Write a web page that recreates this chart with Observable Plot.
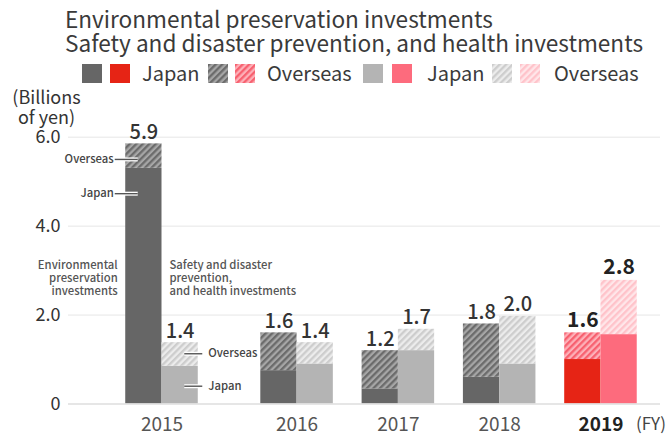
<!DOCTYPE html>
<html><head><meta charset="utf-8">
<script src="https://cdn.jsdelivr.net/npm/d3@7"></script>
<script src="https://cdn.jsdelivr.net/npm/@observablehq/plot@0.6"></script>
<style>
body{margin:0;background:#fff;font-family:"Noto Sans CJK JP","Noto Sans",sans-serif;color:#333;}
#header{position:relative;width:668px;height:90px;}
.title{position:absolute;left:65px;top:7px;font-size:22.6px;line-height:24px;color:#3a3a3a;white-space:nowrap;}
.sw{position:absolute;top:64px;width:20px;height:19px;}
.lt{position:absolute;top:63px;font-size:20px;line-height:20px;color:#3a3a3a;white-space:nowrap;}
svg{display:block;}
</style></head>
<body>
<svg width="0" height="0" style="position:absolute">
<defs>
<pattern id="hDark" patternUnits="userSpaceOnUse" width="4.6" height="4.6" patternTransform="rotate(45)"><rect width="4.6" height="4.6" fill="#a6a6a6"/><rect width="2.3" height="4.6" fill="#6b6b6b"/></pattern>
<pattern id="hRed" patternUnits="userSpaceOnUse" width="4.6" height="4.6" patternTransform="rotate(45)"><rect width="4.6" height="4.6" fill="#fdb0b8"/><rect width="2.3" height="4.6" fill="#f7606f"/></pattern>
<pattern id="hLight" patternUnits="userSpaceOnUse" width="4.6" height="4.6" patternTransform="rotate(45)"><rect width="4.6" height="4.6" fill="#ececec"/><rect width="2.3" height="4.6" fill="#cdcdcd"/></pattern>
<pattern id="hPink" patternUnits="userSpaceOnUse" width="4.6" height="4.6" patternTransform="rotate(45)"><rect width="4.6" height="4.6" fill="#ffe6e9"/><rect width="2.3" height="4.6" fill="#ffc3ca"/></pattern>
</defs></svg>
<div id="header">
<div class="title">Environmental preservation investments<br>Safety and disaster prevention, and health investments</div>
<svg class="sw" style="left:82px"><rect width="20" height="19" fill="#666666"/></svg>
<svg class="sw" style="left:110px"><rect width="20" height="19" fill="#e62415"/></svg>
<div class="lt" style="left:142px">Japan</div>
<svg class="sw" style="left:208px"><rect width="20" height="19" fill="url(#hDark)"/></svg>
<svg class="sw" style="left:235px"><rect width="20" height="19" fill="url(#hRed)"/></svg>
<div class="lt" style="left:267px">Overseas</div>
<svg class="sw" style="left:363px"><rect width="20" height="19" fill="#b4b4b4"/></svg>
<svg class="sw" style="left:392px"><rect width="20" height="19" fill="#fd6b7d"/></svg>
<div class="lt" style="left:427px">Japan</div>
<svg class="sw" style="left:492px"><rect width="20" height="19" fill="url(#hLight)"/></svg>
<svg class="sw" style="left:520px"><rect width="20" height="19" fill="url(#hPink)"/></svg>
<div class="lt" style="left:554px">Overseas</div>
</div>
<div id="chart"></div>
<script>
const years = ["2015", "2016", "2017", "2018", "2019"];
const envJapan = [5.3, 0.75, 0.34, 0.6, 1.0];
const envOverseas = [0.55, 0.85, 0.86, 1.2, 0.6];
const envTotal = [5.9, 1.6, 1.2, 1.8, 1.6];
const safJapan = [0.85, 0.9, 1.2, 0.9, 1.56];
const safOverseas = [0.53, 0.48, 0.48, 1.07, 1.22];
const safTotal = [1.4, 1.4, 1.7, 2.0, 2.8];
const yTicks = [0, 2, 4, 6];
const leftCallouts = [{label: "Overseas", v: 5.5}, {label: "Japan", v: 4.73}];
const rightCallouts = [{label: "Overseas", v: 1.13}, {label: "Japan", v: 0.40}];

const W = 668, H = 347, ML = 68, MR = 8, MT = 46.7, MB = 33.5;
const xDomain = [-0.923, 4.921];
const unitPx = (W - ML - MR) / (xDomain[1] - xDomain[0]);
const px = p => p / unitPx;
const pos = i => i + (i > 0 ? 1 / 3 : 0);
const bw = 0.358;
const hot = i => i === years.length - 1;

const segs = [];
years.forEach((y, i) => {
  const p = pos(i);
  segs.push({x1: p - bw, x2: p, y1: 0, y2: envJapan[i], fill: hot(i) ? "#e62415" : "#666666"});
  segs.push({x1: p - bw, x2: p, y1: envJapan[i], y2: envJapan[i] + envOverseas[i], fill: hot(i) ? "url(#hRed)" : "url(#hDark)"});
  segs.push({x1: p, x2: p + bw, y1: 0, y2: safJapan[i], fill: hot(i) ? "#fd6b7d" : "#b4b4b4"});
  segs.push({x1: p, x2: p + bw, y1: safJapan[i], y2: safJapan[i] + safOverseas[i], fill: hot(i) ? "url(#hPink)" : "url(#hLight)"});
});
const labels = [];
years.forEach((y, i) => {
  labels.push({x: pos(i) - bw / 2, y: envJapan[i] + envOverseas[i], t: envTotal[i].toFixed(1), hot: hot(i)});
  labels.push({x: pos(i) + bw / 2, y: safJapan[i] + safOverseas[i], t: safTotal[i].toFixed(1), hot: hot(i)});
});
const yearRows = years.map((y, i) => ({x: pos(i), t: y, hot: hot(i)}));
const envEdge = pos(0) - bw, safEdge = pos(0) + bw;
const font = "'Noto Sans CJK JP', 'Noto Sans', sans-serif";

const chart = Plot.plot({
  width: W, height: H,
  marginLeft: ML, marginRight: MR, marginTop: MT, marginBottom: MB,
  x: {domain: xDomain, axis: null},
  y: {domain: [0, 6], axis: null},
  style: {fontFamily: font, background: "#fff", overflow: "visible"},
  marks: [
    Plot.ruleY([2, 4, 6], {stroke: "#e6e6e6", strokeWidth: 1}),
    Plot.rect(segs, {x1: "x1", x2: "x2", y1: "y1", y2: "y2", fill: "fill"}),
    Plot.ruleY([0], {stroke: "#dedede", strokeWidth: 1.5}),
    Plot.axisY(yTicks, {tickSize: 0, tickPadding: 8, tickFormat: d => d === 0 ? "0" : d.toFixed(1), fontSize: 18, color: "#333"}),
    Plot.text(["(Billions\nof yen)"], {frameAnchor: "top-left", dx: -22, dy: -13.7, textAnchor: "middle", lineAnchor: "bottom", lineHeight: 1.06, fontSize: 18, fill: "#333"}),
    Plot.text(labels.filter(d => !d.hot), {x: "x", y: "y", text: "t", lineAnchor: "bottom", dy: -5, fontSize: 20, fontWeight: 500, fill: "#333"}),
    Plot.text(labels.filter(d => d.hot), {x: "x", y: "y", text: "t", lineAnchor: "bottom", dy: -6, fontSize: 21, fontWeight: 700, fill: "#222"}),
    Plot.text(yearRows.filter(d => !d.hot), {x: "x", y: () => 0, text: "t", dy: 21, lineAnchor: "middle", fontSize: 19, fill: "#555"}),
    Plot.text(yearRows.filter(d => d.hot), {x: "x", y: () => 0, text: "t", dy: 21, lineAnchor: "middle", fontSize: 19, fontWeight: 700, fill: "#222"}),
    Plot.text(yearRows.filter(d => d.hot), {x: "x", y: () => 0, text: () => "(FY)", dx: 35, dy: 21, textAnchor: "start", lineAnchor: "middle", fontSize: 17, fill: "#444"}),
    Plot.text(["Environmental\npreservation\ninvestments"], {x: envEdge, y: 2.84, dx: -8, textAnchor: "end", lineAnchor: "middle", lineHeight: 1.19, fontSize: 11.3, fontWeight: 500, fill: "#555"}),
    Plot.text(["Safety and disaster\nprevention,\nand health investments"], {x: pos(0), y: 2.84, dx: 7.5, textAnchor: "start", lineAnchor: "middle", lineHeight: 1.19, fontSize: 11.3, fontWeight: 500, fill: "#555"}),
    Plot.link(leftCallouts, {x1: envEdge - px(11), x2: envEdge + px(12), y1: "v", y2: "v", stroke: "#fff", strokeWidth: 4}),
    Plot.link(leftCallouts, {x1: envEdge - px(11), x2: envEdge + px(12), y1: "v", y2: "v", stroke: "#555", strokeWidth: 1.4}),
    Plot.text(leftCallouts, {x: envEdge, y: "v", text: "label", dx: -12, textAnchor: "end", lineAnchor: "middle", fontSize: 11.3, fontWeight: 500, fill: "#444"}),
    Plot.link(rightCallouts, {x1: safEdge - px(14), x2: safEdge + px(4), y1: "v", y2: "v", stroke: "#fff", strokeWidth: 4}),
    Plot.link(rightCallouts, {x1: safEdge - px(14), x2: safEdge + px(4), y1: "v", y2: "v", stroke: "#555", strokeWidth: 1.4}),
    Plot.text(rightCallouts, {x: safEdge, y: "v", text: "label", dx: 10, textAnchor: "start", lineAnchor: "middle", fontSize: 11.3, fontWeight: 500, fill: "#444"})
  ]
});
document.getElementById("chart").appendChild(chart);
</script>
</body></html>
